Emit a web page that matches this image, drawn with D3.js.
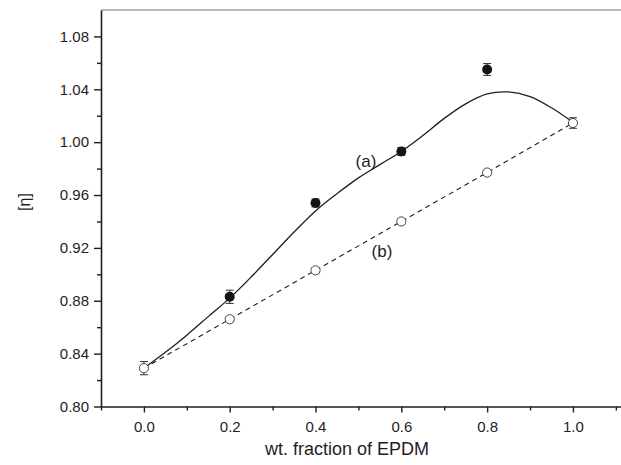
<!DOCTYPE html>
<html>
<head>
<meta charset="utf-8">
<script src="https://cdn.jsdelivr.net/npm/d3@7/dist/d3.min.js"></script>
<style>
  html, body { margin: 0; padding: 0; background: #fff; }
  svg { display: block; font-family: "Liberation Sans", Arial, sans-serif; }
</style>
</head>
<body>
<svg id="chart" width="621" height="465"></svg>
<script>
// Intrinsic viscosity [η] against EPDM weight fraction
// (a) measured blend values (filled), (b) additivity line (open)
const fractionsA = [0.2, 0.4, 0.6, 0.8];
const viscA = [0.883, 0.954, 0.993, 1.055];
const errA = [0.005, 0.003, 0.003, 0.0045];

const fractionsB = [0.0, 0.2, 0.4, 0.6, 0.8, 1.0];
const viscB = [0.829, 0.866, 0.903, 0.940, 0.977, 1.0145];
const errB = [0.005, 0.002, 0.002, 0.002, 0.002, 0.004];

// fitted curve through series (a)
const fitX = [0.0, 0.05, 0.1, 0.15, 0.2, 0.25, 0.3, 0.35, 0.4, 0.45, 0.5,
              0.55, 0.6, 0.65, 0.7, 0.75, 0.8, 0.85, 0.9, 0.95, 1.0];
const fitY = [0.829, 0.841, 0.854, 0.868, 0.882, 0.898, 0.915, 0.932, 0.948, 0.961, 0.973,
              0.983, 0.993, 1.005, 1.018, 1.029, 1.0365, 1.038, 1.0345, 1.026, 1.015];

const xMajor = [0.0, 0.2, 0.4, 0.6, 0.8, 1.0];
const xMinor = [-0.1, 0.1, 0.3, 0.5, 0.7, 0.9, 1.1];
const yMajor = [0.80, 0.84, 0.88, 0.92, 0.96, 1.00, 1.04, 1.08];
const yMinor = [0.82, 0.86, 0.90, 0.94, 0.98, 1.02, 1.06];

const svg = d3.select("#chart");
const plotLeft = 101, plotRight = 621, plotTop = 10, plotBottom = 406.5;

const x = d3.scaleLinear().domain([-0.1, 1.112]).range([plotLeft, plotRight]);
const y = d3.scaleLinear().domain([0.80, 1.10]).range([plotBottom, plotTop]);

const ink = "#1e1e1e";

// top frame line
svg.append("line")
  .attr("x1", plotLeft).attr("x2", plotRight).attr("y1", plotTop).attr("y2", plotTop)
  .attr("stroke", "#a0a0a0").attr("stroke-width", 1.5);

// x axis
svg.append("g").attr("transform", `translate(0,${plotBottom})`)
  .call(d3.axisBottom(x).tickValues(xMajor).tickFormat(d3.format(".1f"))
        .tickSize(6).tickPadding(9).tickSizeOuter(0));
svg.append("g").attr("transform", `translate(0,${plotBottom})`)
  .call(d3.axisBottom(x).tickValues(xMinor).tickFormat("").tickSize(4).tickSizeOuter(0))
  .select(".domain").remove();

// y axis
svg.append("g").attr("transform", `translate(${plotLeft},0)`)
  .call(d3.axisLeft(y).tickValues(yMajor).tickFormat(d3.format(".2f"))
        .tickSize(7).tickPadding(5).tickSizeOuter(0));
svg.append("g").attr("transform", `translate(${plotLeft},0)`)
  .call(d3.axisLeft(y).tickValues(yMinor).tickFormat("").tickSize(4).tickSizeOuter(0))
  .select(".domain").remove();

svg.selectAll(".domain").attr("stroke", ink).attr("stroke-width", 1.6);
svg.selectAll(".tick line").attr("stroke", ink).attr("stroke-width", 1.4);
svg.selectAll(".tick text").attr("fill", ink).attr("font-size", 15)
  .attr("font-family", "Liberation Sans, Arial, sans-serif");

// axis titles
svg.append("text")
  .attr("x", 347).attr("y", 455)
  .attr("text-anchor", "middle").attr("font-size", 18).attr("fill", ink)
  .text("wt. fraction of EPDM");
svg.append("text")
  .attr("transform", "translate(30,202) rotate(-90)")
  .attr("text-anchor", "middle").attr("font-size", 16).attr("fill", ink)
  .text("[η]");

// series (b): dashed straight segments
const ptsB = fractionsB.map((f, i) => [f, viscB[i]]);
svg.append("path")
  .datum(ptsB)
  .attr("fill", "none").attr("stroke", ink).attr("stroke-width", 1.1)
  .attr("stroke-dasharray", "5,4")
  .attr("d", d3.line().x(d => x(d[0])).y(d => y(d[1])));

// series (a): smooth fitted curve
const fitPts = fitX.map((f, i) => [f, fitY[i]]);
svg.append("path")
  .datum(fitPts)
  .attr("fill", "none").attr("stroke", ink).attr("stroke-width", 1.3)
  .attr("d", d3.line().curve(d3.curveCatmullRom.alpha(0.5)).x(d => x(d[0])).y(d => y(d[1])));

// error bars
function errorBars(xs, vs, es) {
  const g = svg.append("g").attr("stroke", "#333").attr("stroke-width", 1);
  xs.forEach((f, i) => {
    const cx = x(f), y1 = y(vs[i] + es[i]), y2 = y(vs[i] - es[i]);
    g.append("line").attr("x1", cx).attr("x2", cx).attr("y1", y1).attr("y2", y2);
    g.append("line").attr("x1", cx - 4).attr("x2", cx + 4).attr("y1", y1).attr("y2", y1);
    g.append("line").attr("x1", cx - 4).attr("x2", cx + 4).attr("y1", y2).attr("y2", y2);
  });
}
errorBars(fractionsB, viscB, errB);
errorBars(fractionsA, viscA, errA);

// open markers (b)
svg.append("g").selectAll("circle").data(ptsB).join("circle")
  .attr("cx", d => x(d[0])).attr("cy", d => y(d[1])).attr("r", 4.6)
  .attr("fill", "#fff").attr("stroke", "#333").attr("stroke-width", 0.9);

// filled markers (a)
svg.append("g").selectAll("circle").data(fractionsA.map((f, i) => [f, viscA[i]])).join("circle")
  .attr("cx", d => x(d[0])).attr("cy", d => y(d[1])).attr("r", 5)
  .attr("fill", "#151515");

// curve labels
svg.append("text").attr("x", 366).attr("y", 167).attr("text-anchor", "middle")
  .attr("font-size", 17).attr("fill", ink).text("(a)");
svg.append("text").attr("x", 382).attr("y", 257).attr("text-anchor", "middle")
  .attr("font-size", 17).attr("fill", ink).text("(b)");
</script>
</body>
</html>
